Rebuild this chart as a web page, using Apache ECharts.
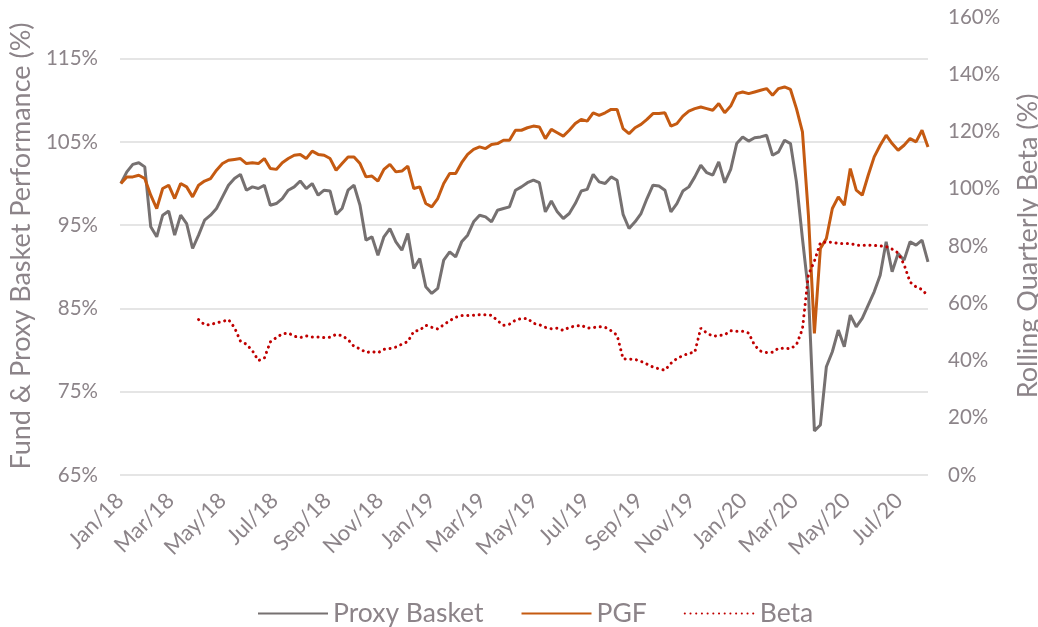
<!DOCTYPE html>
<html>
<head>
<meta charset="utf-8">
<title>PGF vs Proxy Basket</title>
<script src="https://cdn.jsdelivr.net/npm/echarts@6/dist/echarts.min.js"></script>
<style>
	html, body { margin: 0; padding: 0; background: #fff; }
	#main { width: 1038px; height: 627px; }
</style>
</head>
<body>
<div id="main"></div>
<script>
// weekly observations starting on the first trading day of 2018
var startDay = '2018-01-02';
var stepDays = 7;

var proxyBasket = [
	100.0, 101.4, 102.3, 102.5, 102.0, 94.8, 93.6, 96.2, 96.7, 93.8, 96.2, 95.2, 92.2, 93.8, 95.6, 96.2, 97.0,
	98.4, 99.8, 100.6, 101.1, 99.2, 99.6, 99.4, 99.8, 97.4, 97.6, 98.2, 99.2, 99.6, 100.3, 99.4, 100.0, 98.6,
	99.2, 99.1, 96.3, 97.0, 99.2, 99.8, 97.4, 93.2, 93.6, 91.4, 93.6, 94.6, 93.0, 92.0, 94.0, 89.8, 91.0,
	87.6, 86.8, 87.4, 90.8, 91.8, 91.2, 93.0, 93.8, 95.4, 96.2, 96.0, 95.4, 96.8, 97.0, 97.2, 99.2,
	99.6, 100.1, 100.4, 100.1, 96.6, 97.9, 96.6, 95.8, 96.4, 97.6, 99.1, 99.3, 101.1, 100.2, 100.0, 100.8, 100.4,
	96.3, 94.6, 95.4, 96.4, 98.2, 99.8, 99.7, 99.2, 96.6, 97.6, 99.1, 99.6, 100.8, 102.2, 101.3, 101.0, 102.6,
	100.1, 101.7, 104.8, 105.6, 105.1, 105.5, 105.6, 105.8, 103.4, 103.8, 105.2, 104.8, 100.2, 93.4, 87.0, 70.3,
	71.0, 78.0, 79.8, 82.4, 80.4, 84.2, 82.8, 83.8, 85.4, 87.0, 89.0, 93.0, 89.4, 91.6, 90.8, 93.0, 92.6, 93.2, 90.6
];

var pgf = [
	100.0, 100.8, 100.8, 101.0, 100.6, 98.6, 97.0, 99.4, 99.8, 98.2, 100.0, 99.6, 98.4, 99.8, 100.3, 100.6, 101.6,
	102.4, 102.8, 102.9, 103.0, 102.4, 102.5, 102.4, 103.0, 101.8, 101.7, 102.5, 103.0, 103.4, 103.5, 103.0, 103.9, 103.5,
	103.4, 103.0, 101.6, 102.4, 103.2, 103.2, 102.4, 100.8, 100.9, 100.3, 101.7, 102.3, 101.4, 101.5, 102.1, 99.4, 99.6,
	97.6, 97.2, 98.2, 100.0, 101.2, 101.2, 102.5, 103.5, 104.1, 104.4, 104.2, 104.7, 104.8, 105.2, 105.2, 106.4,
	106.4, 106.7, 106.9, 106.8, 105.4, 106.5, 106.1, 105.7, 106.4, 107.2, 107.7, 107.5, 108.5, 108.2, 108.5, 108.9, 108.9,
	106.6, 106.0, 106.7, 107.1, 107.7, 108.4, 108.4, 108.5, 106.9, 107.2, 108.1, 108.7, 109.0, 109.2, 109.0, 108.8, 109.6,
	108.5, 109.3, 110.8, 111.0, 110.8, 111.0, 111.2, 111.4, 110.6, 111.4, 111.6, 111.3, 109.0, 106.2, 96.2, 82.0,
	92.2, 93.4, 97.0, 98.4, 97.4, 101.8, 99.2, 98.6, 101.0, 103.2, 104.6, 105.8, 104.8, 104.0, 104.6, 105.4, 105.0, 106.4, 104.4
];

// rolling quarterly beta, first value once a full quarter is available
var beta = [
	null, null, null, null, null, null, null, null, null, null, null, null, null,
	54.3, 52.5, 52.5, 53.2, 53.6, 54.3, 51.5, 46.8, 45.7, 43.4, 40.0, 40.8, 46.5, 48.0, 49.3, 49.6, 48.5, 48.0, 48.6, 48.2, 48.2,
	48.0, 48.1, 49.1, 48.7, 47.3, 44.9, 44.1, 42.8, 43.1, 42.7, 43.9, 44.2, 44.7, 45.7, 46.6, 50.2, 50.6,
	52.3, 51.6, 51.0, 52.5, 53.9, 55.1, 55.7, 55.7, 55.8, 56.0, 56.0, 55.8, 53.9, 52.3, 52.7, 54.1,
	54.7, 54.7, 53.0, 52.5, 51.6, 51.1, 51.3, 50.5, 51.6, 52.0, 52.3, 51.3, 51.5, 51.8, 51.6, 50.4, 48.8,
	40.6, 40.5, 40.4, 39.7, 38.7, 37.7, 37.1, 36.6, 39.0, 40.7, 41.7, 42.5, 42.9, 51.3, 49.6, 48.5, 48.7,
	49.0, 50.4, 50.2, 50.2, 49.6, 45.3, 43.3, 42.8, 42.9, 44.3, 44.3, 44.1, 45.5, 51.0, 70.0, 74.7,
	81.1, 81.4, 81.3, 80.9, 80.9, 80.9, 80.3, 80.3, 80.3, 80.2, 80.0, 79.8, 78.9, 77.6, 73.5, 67.4, 65.7, 64.8, 62.5
];

var tickMonths = [
	'2018-01-01', '2018-03-01', '2018-05-01', '2018-07-01', '2018-09-01', '2018-11-01',
	'2019-01-01', '2019-03-01', '2019-05-01', '2019-07-01', '2019-09-01', '2019-11-01',
	'2020-01-01', '2020-03-01', '2020-05-01', '2020-07-01'
];
var monthNames = ['Jan', 'Feb', 'Mar', 'Apr', 'May', 'Jun', 'Jul', 'Aug', 'Sep', 'Oct', 'Nov', 'Dec'];

var textColor = '#8c8489';
var fontName = 'Lato';

function pairs(values) {
	var t0 = Date.parse(startDay);
	var out = [];
	for (var i = 0; i < values.length; i++) {
		out.push([t0 + i * stepDays * 86400000, values[i]]);
	}
	return out;
}

function initFn() {
	var myChart = echarts.init(document.getElementById('main'));
	var ticks = tickMonths.map(function(d) { return Date.parse(d); });
	var lastDay = Date.parse(startDay) + (proxyBasket.length - 1) * stepDays * 86400000;

	var option = {
		backgroundColor: '#ffffff',
		animation: false,
		textStyle: { fontFamily: fontName },
		grid: {
			left: 120,
			right: 110,
			top: 17,
			bottom: 152,
			outerBoundsMode: 'none'
		},
		legend: {
			bottom: -5,
			left: 252,
			itemWidth: 70,
			itemHeight: 14,
			itemGap: 37,
			itemStyle: { opacity: 0 },
			textStyle: { color: textColor, fontSize: 26.5, fontFamily: fontName },
			data: ['Proxy Basket', 'PGF', 'Beta']
		},
		xAxis: {
			// dates kept as timestamps on a value axis so the labels can sit on the 1st of every other month
			type: 'value',
			min: Date.parse('2018-01-01'),
			max: lastDay,
			axisLine: { show: false },
			axisTick: { show: false },
			splitLine: { show: false },
			axisLabel: {
				customValues: ticks,
				rotate: 45,
				margin: 22,
				color: textColor,
				fontSize: 22,
				fontFamily: fontName,
				formatter: function(v) {
					var d = new Date(v);
					return monthNames[d.getUTCMonth()] + '/' + String(d.getUTCFullYear()).slice(2);
				}
			}
		},
		yAxis: [{
			type: 'value',
			min: 65,
			max: 120,
			interval: 10,
			name: 'Fund & Proxy Basket Performance (%)',
			nameLocation: 'middle',
			nameGap: 85,
			nameTextStyle: { color: textColor, fontSize: 27, fontFamily: fontName },
			axisLine: { show: false },
			axisTick: { show: false },
			axisLabel: {
				showMaxLabel: false,
				margin: 22,
				color: textColor,
				fontSize: 20.5,
				fontFamily: fontName,
				formatter: '{value}%'
			},
			splitLine: {
				show: true,
				lineStyle: {
					color: ['#dcdcdc', '#dcdcdc', '#dcdcdc', '#dcdcdc', '#dcdcdc', '#dcdcdc', 'rgba(0,0,0,0)'],
					width: 1.5
				}
			}
		}, {
			type: 'value',
			min: 0,
			max: 160,
			interval: 20,
			name: 'Rolling Quarterly Beta (%)',
			nameLocation: 'middle',
			nameRotate: 90,
			nameGap: 87,
			nameTextStyle: { color: textColor, fontSize: 27, fontFamily: fontName },
			axisLine: { show: false },
			axisTick: { show: false },
			splitLine: { show: false },
			axisLabel: {
				margin: 20,
				color: textColor,
				fontSize: 20.5,
				fontFamily: fontName,
				formatter: '{value}%'
			}
		}],
		series: [{
			name: 'Proxy Basket',
			type: 'line',
			yAxisIndex: 0,
			symbol: 'none',
			color: '#767171',
			lineStyle: { color: '#767171', width: 3 },
			data: pairs(proxyBasket)
		}, {
			name: 'PGF',
			type: 'line',
			yAxisIndex: 0,
			symbol: 'none',
			color: '#c55a11',
			lineStyle: { color: '#c55a11', width: 3 },
			data: pairs(pgf)
		}, {
			name: 'Beta',
			type: 'line',
			yAxisIndex: 1,
			symbol: 'none',
			color: '#c00000',
			connectNulls: false,
			lineStyle: { color: '#c00000', width: 3, type: [0.1, 5.6], cap: 'round' },
			data: pairs(beta)
		}]
	};
	myChart.setOption(option);
}

initFn();
</script>
</body>
</html>
